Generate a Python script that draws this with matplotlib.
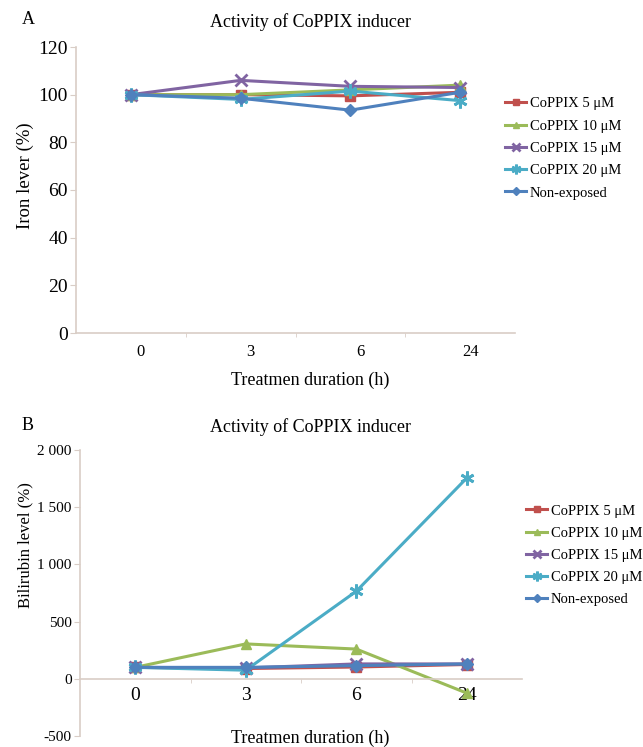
import matplotlib
matplotlib.use('Agg')
import matplotlib.pyplot as plt
from matplotlib.ticker import FixedLocator, FuncFormatter
from matplotlib.transforms import ScaledTranslation

plt.rcParams['font.family'] = ['Liberation Serif', 'DejaVu Serif']

# data
hours = ['0', '3', '6', '24']
names = ['CoPPIX 5 μM', 'CoPPIX 10 μM', 'CoPPIX 15 μM', 'CoPPIX 20 μM', 'Non-exposed']
iron_5 = [100, 100, 99.5, 101]
iron_10 = [100, 100, 102, 104]
iron_15 = [100, 106, 103.5, 103]
iron_20 = [100, 98, 101.5, 97.5]
iron_ctrl = [100, 98.5, 93.5, 101]
bili_5 = [100, 90, 103, 125]
bili_10 = [100, 305, 260, -125]
bili_15 = [100, 95, 130, 130]
bili_20 = [100, 75, 765, 1755]
bili_ctrl = [100, 100, 115, 130]

colors = ['#C0504D', '#9BBB59', '#8064A2', '#4BACC6', '#4F81BD']
markers = ['s', '^', 'x', (6, 2, 0), 'D']
msizes = [7, 7, 9, 10, 6]
axcol = '#d9cdc6'

W, H = 643, 747
fig = plt.figure(figsize=(W / 100, H / 100), dpi=100)


def box(l, t, r, b):
    return [l / W, 1 - b / H, (r - l) / W, (b - t) / H]


def style(ax):
    for s in ['top', 'right']:
        ax.spines[s].set_visible(False)
    for s in ['left', 'bottom']:
        ax.spines[s].set_color(axcol)
        ax.spines[s].set_linewidth(1.2)
    ax.set_xlim(-0.5, 3.5)
    ax.set_xticks(range(4))
    ax.set_xticklabels(hours)
    ax.xaxis.set_minor_locator(FixedLocator([0.5, 1.5, 2.5]))
    ax.tick_params(axis='x', which='major', length=0, pad=8)
    ax.tick_params(axis='x', which='minor', length=3, color=axcol, direction='out')
    ax.tick_params(axis='y', length=4, color=axcol, direction='out', pad=2)
    ax.patch.set_alpha(0)


def draw(ax, series):
    xs = range(4)
    handles = []
    for i in range(5):
        h, = ax.plot(xs, series[i], color=colors[i], lw=2.2, marker=markers[i],
                     ms=msizes[i], mec=colors[i], mew=2 if i in (2, 3) else 1,
                     label=names[i], clip_on=False)
        handles.append(h)
    return handles


# Panel A
axA = fig.add_axes(box(76, 47, 515, 333))
style(axA)
hA = draw(axA, [iron_5, iron_10, iron_15, iron_20, iron_ctrl])
axA.set_ylim(0, 120)
axA.set_yticks(range(0, 121, 20))
axA.tick_params(axis='y', labelsize=14)
axA.tick_params(axis='x', labelsize=12)
for lab in axA.get_xticklabels():
    lab.set_transform(lab.get_transform() + ScaledTranslation(0.1, 0, fig.dpi_scale_trans))
fig.text(22 / W, 1 - 20 / H, 'A', fontsize=13, va='center', ha='left')
fig.text(310 / W, 1 - 22 / H, 'Activity of CoPPIX inducer', fontsize=13, ha='center', va='center')
fig.text(25 / W, 1 - 176 / H, 'Iron lever (%)', fontsize=13.5, rotation=90, ha='center', va='center')
fig.text(310 / W, 1 - 380 / H, 'Treatmen duration (h)', fontsize=13, ha='center', va='center')
fig.legend(handles=hA, loc='upper left', bbox_to_anchor=(498 / W, 1 - 90 / H),
           frameon=False, fontsize=10.5, handlelength=1.4, handletextpad=0.3,
           labelspacing=0.62, borderpad=0, markerscale=0.7)

# Panel B
axB = fig.add_axes(box(80, 450, 522, 736))
style(axB)
hB = draw(axB, [bili_5, bili_10, bili_15, bili_20, bili_ctrl])
axB.set_ylim(-500, 2000)
axB.set_yticks(range(-500, 2001, 500))
axB.yaxis.set_major_formatter(FuncFormatter(lambda v, p: f'{int(v):,}'.replace(',', ' ')))
axB.spines['bottom'].set_position(('data', 0))
axB.tick_params(axis='y', labelsize=11)
axB.tick_params(axis='x', labelsize=14, pad=6)
fig.text(22 / W, 1 - 425 / H, 'B', fontsize=13, va='center', ha='left')
fig.text(310 / W, 1 - 427 / H, 'Activity of CoPPIX inducer', fontsize=13, ha='center', va='center')
fig.text(25 / W, 1 - 545 / H, 'Bilirubin level (%)', fontsize=12, rotation=90, ha='center', va='center')
fig.text(310 / W, 1 - 738 / H, 'Treatmen duration (h)', fontsize=13, ha='center', va='center')
fig.legend(handles=hB, loc='upper left', bbox_to_anchor=(519 / W, 1 - 497 / H),
           frameon=False, fontsize=10.5, handlelength=1.4, handletextpad=0.3,
           labelspacing=0.62, borderpad=0, markerscale=0.7)

fig.savefig('out.png', dpi=100)
